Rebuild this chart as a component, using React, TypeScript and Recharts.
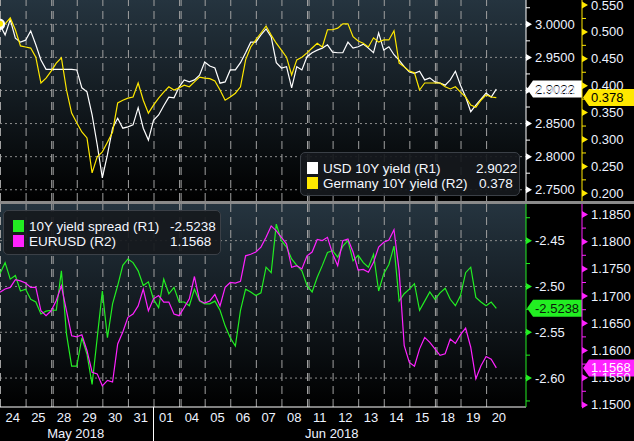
import React from 'react';
import {
  LineChart,
  Line,
  XAxis,
  YAxis,
  CartesianGrid,
  ReferenceLine,
} from 'recharts';

const FONT = '"Liberation Sans", Arial, sans-serif';

// trading days shown on the axis (one band each)
const dayLabels = ['24', '25', '28', '29', '30', '31', '01', '04', '05', '06', '07', '08', '11', '12', '13', '14', '15', '18', '19', '20'];
const monthLabels = ['May 2018', 'Jun 2018'];
const monthCentres = [2.96, 12.97];
const monthBreak = 6;
const weekendBreaks = [2, 7, 12, 17];
const SAMPLES_PER_DAY = 5;
const X_MAX = 20.56;

// USD 10Y yield (R1, top)
const usdYield = [
  2.999, 2.984, 3.007, 2.979, 2.973, 2.976, 2.990, 2.969, 2.946, 2.932,
  2.932, 2.932, 2.932, 2.932, 2.932, 2.931, 2.904, 2.898, 2.863, 2.818,
  2.768, 2.803, 2.843, 2.858, 2.843, 2.845, 2.848, 2.874, 2.843, 2.825,
  2.855, 2.863, 2.877, 2.890, 2.889, 2.905, 2.916, 2.913, 2.916, 2.923,
  2.943, 2.937, 2.934, 2.911, 2.913, 2.931, 2.931, 2.942, 2.957, 2.973,
  2.973, 2.984, 2.993, 2.981, 2.942, 2.934, 2.936, 2.904, 2.936, 2.931,
  2.951, 2.957, 2.961, 2.964, 2.969, 2.958, 2.957, 2.957, 2.973, 2.964,
  2.966, 2.970, 2.964, 2.957, 2.987, 2.961, 2.966, 2.954, 2.946, 2.936,
  2.928, 2.926, 2.929, 2.916, 2.919, 2.913, 2.911, 2.908, 2.916, 2.929,
  2.908, 2.890, 2.868, 2.878, 2.887, 2.896, 2.890, 2.902,
];

// Germany 10Y yield (R2, top)
const deYield = [
  0.515, 0.515, 0.526, 0.504, 0.474, 0.472, 0.470, 0.453, 0.405, 0.414,
  0.427, 0.442, 0.452, 0.392, 0.349, 0.331, 0.314, 0.303, 0.238, 0.268,
  0.277, 0.295, 0.314, 0.368, 0.373, 0.377, 0.379, 0.405, 0.373, 0.349,
  0.364, 0.377, 0.388, 0.398, 0.392, 0.396, 0.401, 0.398, 0.407, 0.416,
  0.414, 0.413, 0.409, 0.392, 0.373, 0.379, 0.386, 0.398, 0.448, 0.472,
  0.485, 0.498, 0.511, 0.494, 0.479, 0.466, 0.453, 0.420, 0.448, 0.453,
  0.461, 0.470, 0.479, 0.472, 0.504, 0.504, 0.507, 0.515, 0.515, 0.491,
  0.483, 0.479, 0.472, 0.489, 0.481, 0.485, 0.485, 0.502, 0.442, 0.435,
  0.427, 0.424, 0.392, 0.405, 0.405, 0.405, 0.405, 0.398, 0.394, 0.398,
  0.388, 0.379, 0.364, 0.360, 0.373, 0.383, 0.379, 0.378,
];

// 10Y yield spread (R1, bottom)
const yieldSpread = [
  -2.486, -2.474, -2.492, -2.488, -2.505, -2.503, -2.514, -2.517, -2.530, -2.527,
  -2.526, -2.526, -2.483, -2.552, -2.587, -2.587, -2.556, -2.574, -2.607, -2.556,
  -2.505, -2.556, -2.519, -2.499, -2.477, -2.470, -2.474, -2.483, -2.499, -2.495,
  -2.514, -2.523, -2.492, -2.508, -2.501, -2.517, -2.517, -2.521, -2.503, -2.516,
  -2.519, -2.519, -2.516, -2.526, -2.543, -2.556, -2.565, -2.526, -2.503, -2.506,
  -2.510, -2.507, -2.479, -2.485, -2.432, -2.450, -2.457, -2.470, -2.477, -2.483,
  -2.499, -2.506, -2.490, -2.477, -2.463, -2.461, -2.468, -2.456, -2.450, -2.472,
  -2.466, -2.474, -2.479, -2.465, -2.505, -2.486, -2.476, -2.456, -2.516, -2.508,
  -2.503, -2.497, -2.526, -2.516, -2.506, -2.514, -2.507, -2.502, -2.514, -2.521,
  -2.510, -2.485, -2.479, -2.512, -2.517, -2.521, -2.517, -2.524,
];

// EURUSD (R2, bottom)
const eurusd = [
  1.1707, 1.1713, 1.1716, 1.1730, 1.1728, 1.1724, 1.1716, 1.1716, 1.1673, 1.1664,
  1.1673, 1.1692, 1.1719, 1.1673, 1.1627, 1.1625, 1.1629, 1.1600, 1.1560, 1.1557,
  1.1535, 1.1545, 1.1542, 1.1612, 1.1634, 1.1661, 1.1667, 1.1682, 1.1713, 1.1673,
  1.1695, 1.1701, 1.1689, 1.1689, 1.1667, 1.1664, 1.1679, 1.1695, 1.1736, 1.1692,
  1.1687, 1.1691, 1.1703, 1.1682, 1.1716, 1.1725, 1.1724, 1.1727, 1.1774, 1.1777,
  1.1781, 1.1790, 1.1808, 1.1829, 1.1820, 1.1808, 1.1796, 1.1753, 1.1756, 1.1750,
  1.1774, 1.1781, 1.1804, 1.1802, 1.1808, 1.1778, 1.1756, 1.1802, 1.1805, 1.1781,
  1.1748, 1.1749, 1.1744, 1.1762, 1.1790, 1.1799, 1.1803, 1.1822, 1.1747, 1.1609,
  1.1578, 1.1571, 1.1603, 1.1624, 1.1615, 1.1603, 1.1591, 1.1594, 1.1621, 1.1613,
  1.1629, 1.1641, 1.1606, 1.1548, 1.1572, 1.1589, 1.1584, 1.1568,
];

const lastUsd = 2.9022;
const lastDe = 0.378;
const lastSpread = -2.5238;
const lastEur = 1.1568;

const usdTicks = [2.75, 2.775, 2.8, 2.825, 2.85, 2.875, 2.9, 2.925, 2.95, 2.975, 3.0, 3.025];
const deTicks = [0.2, 0.225, 0.25, 0.275, 0.3, 0.325, 0.35, 0.375, 0.4, 0.425, 0.45, 0.475, 0.5, 0.525, 0.55];
const spreadTicks = [-2.625, -2.6, -2.575, -2.55, -2.525, -2.5, -2.475, -2.45, -2.425];
const eurTicks = [1.15, 1.1525, 1.155, 1.1575, 1.16, 1.1625, 1.165, 1.1675, 1.17, 1.1725, 1.175, 1.1775, 1.18, 1.1825, 1.185];

const rows = usdYield.map((v, i) => ({
  t: i / SAMPLES_PER_DAY,
  usd: v,
  de: deYield[i],
  spread: yieldSpread[i],
  eur: eurusd[i],
}));

const dayTicks = dayLabels.map((_, i) => i + 0.5);
const gridDays = dayLabels.map((_, i) => i);

const isMajor = (v: number, step: number) =>
  Math.abs(v / step - Math.round(v / step)) < 1e-6;

const makeYTick = (color: string, digits: number, step: number) => (props: any) => {
  const { x, y, payload } = props;
  const v = payload.value as number;
  if (!isMajor(v, step)) {
    return <line x1={x} x2={x + 4} y1={y} y2={y} stroke={color} />;
  }
  return (
    <g>
      <path d={`M${x},${y - 3.5} L${x + 6},${y} L${x},${y + 3.5} Z`} fill={color} />
      <text x={x + 9} y={y + 4.5} fill='#eef3ff' fontSize={13} fontFamily={FONT}>
        {v.toFixed(digits)}
      </text>
    </g>
  );
};

const badge = (dx: number, w: number, fill: string, color: string, text: string) => (props: any) => {
  const vb = props.viewBox;
  const x = vb.x + vb.width + dx;
  const y = vb.y;
  return (
    <g>
      <path d={`M${x + 1},${y} L${x + 7},${y - 8.5} H${x + w} V${y + 8.5} H${x + 7} Z`} fill={fill} />
      <text x={x + 9} y={y + 4.5} fill={color} fontSize={13} fontFamily={FONT}>
        {text}
      </text>
    </g>
  );
};

const DayTick = (props: any) => {
  const { x, y, payload } = props;
  return (
    <text x={x} y={y + 14.5} textAnchor='middle' fill='#eef3ff' fontSize={13} fontFamily={FONT}>
      {dayLabels[Math.floor(payload.value)]}
    </text>
  );
};

const MonthTick = (props: any) => {
  const { x, y, payload } = props;
  if (payload.value === monthBreak) {
    return <line x1={x} x2={x} y1={y - 17} y2={y + 17} stroke='#ffffff' />;
  }
  return (
    <text x={x} y={y + 13.5} textAnchor='middle' fill='#eef3ff' fontSize={13} fontFamily={FONT}>
      {monthLabels[monthCentres.indexOf(payload.value)]}
    </text>
  );
};

const verticalGrid = (keyPrefix: string) => [
  ...gridDays.map((d) => (
    <ReferenceLine key={`${keyPrefix}-${d}`} x={d + 0.02} yAxisId='r1' stroke='#a0a0a0' strokeDasharray='8 5' />
  )),
  ...weekendBreaks.map((d) => (
    <ReferenceLine key={`${keyPrefix}-w${d}`} x={d + 0.08} yAxisId='r1' stroke='#a0a0a0' strokeDasharray='8 5' />
  )),
];

const legendBox: React.CSSProperties = {
  position: 'absolute',
  background: 'rgba(22,25,29,0.92)',
  border: '1px solid #3b4047',
  borderRadius: 5,
  color: '#f4f7ff',
  fontFamily: FONT,
  fontSize: 13.5,
  lineHeight: '15px',
};

function LegendRow({ color, label, value, valueLeft }: { color: string; label: string; value: string; valueLeft: number }) {
  return (
    <div style={{ position: 'relative', height: 15 }}>
      <span style={{ position: 'absolute', left: 0, top: 1, width: 11, height: 12, background: color }} />
      <span style={{ position: 'absolute', left: 16, top: 0, whiteSpace: 'nowrap' }}>{label}</span>
      <span style={{ position: 'absolute', left: valueLeft, top: 0 }}>{value}</span>
    </div>
  );
}

export default function App() {
  return (
    <div style={{ position: 'absolute', left: 0, top: 0, width: 634, height: 441, background: '#000', overflow: 'hidden' }}>
      <LineChart width={634} height={201} data={rows} margin={{ top: 0, right: 0, bottom: 0, left: 0 }}>
        <defs>
          <linearGradient id='bgTop' x1='0' y1='0' x2='0' y2='1'>
            <stop offset='0%' stopColor='#25343f' />
            <stop offset='100%' stopColor='#000000' />
          </linearGradient>
        </defs>
        <CartesianGrid
          yAxisId='r1'
          vertical={false}
          horizontalValues={[2.75, 2.8, 2.85, 2.9, 2.95, 3.0]}
          stroke='#8d8d8d'
          strokeDasharray='2 3'
          fill='url(#bgTop)'
        />
        <XAxis dataKey='t' type='number' domain={[0, X_MAX]} hide allowDataOverflow />
        <YAxis
          yAxisId='r1'
          orientation='right'
          width={56}
          domain={[2.733, 3.0367]}
          ticks={usdTicks}
          interval={0}
          tick={makeYTick('#ffffff', 4, 0.05)}
          tickLine={false}
          tickSize={0}
          tickMargin={0}
          axisLine={{ stroke: '#ffffff' }}
          allowDataOverflow
        />
        <YAxis
          yAxisId='r2'
          orientation='right'
          width={52}
          domain={[0.1857, 0.5593]}
          ticks={deTicks}
          interval={0}
          tick={makeYTick('#ffe800', 3, 0.05)}
          tickLine={false}
          tickSize={0}
          tickMargin={0}
          axisLine={{ stroke: '#ffe800' }}
          allowDataOverflow
        />
        {verticalGrid('top')}
        <Line yAxisId='r1' dataKey='usd' type='linear' stroke='#ffffff' strokeWidth={1.2} dot={false} isAnimationActive={false} />
        <Line yAxisId='r2' dataKey='de' type='linear' stroke='#ffe800' strokeWidth={1.2} dot={false} isAnimationActive={false} />
        <ReferenceLine yAxisId='r1' y={lastUsd} stroke='none' label={badge(0, 56, '#ffffff', '#000000', lastUsd.toFixed(4))} />
        <ReferenceLine yAxisId='r2' y={lastDe} stroke='none' label={badge(56, 52, '#ffe800', '#000000', lastDe.toFixed(3))} />
      </LineChart>
      <div style={{ height: 3, background: '#8a8a8a' }} />
      <LineChart width={634} height={237} data={rows} margin={{ top: 0, right: 0, bottom: 0, left: 0 }}>
        <defs>
          <linearGradient id='bgBottom' x1='0' y1='0' x2='0' y2='1'>
            <stop offset='0%' stopColor='#25343f' />
            <stop offset='100%' stopColor='#000000' />
          </linearGradient>
        </defs>
        <CartesianGrid
          yAxisId='r1'
          vertical={false}
          horizontalValues={[-2.6, -2.55, -2.5, -2.45]}
          stroke='#8d8d8d'
          strokeDasharray='2 3'
          fill='url(#bgBottom)'
        />
        <XAxis
          dataKey='t'
          type='number'
          domain={[0, X_MAX]}
          ticks={dayTicks}
          interval={0}
          height={17}
          tick={DayTick}
          tickLine={false}
          tickSize={0}
          tickMargin={0}
          axisLine={{ stroke: '#ffffff' }}
          allowDataOverflow
        />
        <XAxis
          xAxisId='m'
          dataKey='t'
          type='number'
          domain={[0, X_MAX]}
          ticks={[...monthCentres, monthBreak]}
          interval={0}
          height={17}
          tick={MonthTick}
          tickLine={false}
          tickSize={0}
          tickMargin={0}
          axisLine={false}
          allowDataOverflow
        />
        <YAxis
          yAxisId='r1'
          orientation='right'
          width={56}
          domain={[-2.6316, -2.41]}
          ticks={spreadTicks}
          interval={0}
          tick={makeYTick('#22ee22', 2, 0.05)}
          tickLine={false}
          tickSize={0}
          tickMargin={0}
          axisLine={{ stroke: '#22ee22' }}
          allowDataOverflow
        />
        <YAxis
          yAxisId='r2'
          orientation='right'
          width={52}
          domain={[1.14961, 1.18693]}
          ticks={eurTicks}
          interval={0}
          tick={makeYTick('#ff22ff', 4, 0.005)}
          tickLine={false}
          tickSize={0}
          tickMargin={0}
          axisLine={{ stroke: '#ff22ff' }}
          allowDataOverflow
        />
        {verticalGrid('bot')}
        <Line yAxisId='r1' dataKey='spread' type='linear' stroke='#22ee22' strokeWidth={1.2} dot={false} isAnimationActive={false} />
        <Line yAxisId='r2' dataKey='eur' type='linear' stroke='#ff22ff' strokeWidth={1.2} dot={false} isAnimationActive={false} />
        <ReferenceLine yAxisId='r1' y={lastSpread} stroke='none' label={badge(0, 56, '#22ee22', '#0a1a0a', lastSpread.toFixed(4))} />
        <ReferenceLine yAxisId='r2' y={lastEur} stroke='none' label={badge(56, 52, '#ff22ff', '#ffffff', lastEur.toFixed(4))} />
      </LineChart>

      <div style={{ ...legendBox, left: 300, top: 152, width: 220, height: 44, padding: '8px 0 0 6px', boxSizing: 'border-box' }}>
        <LegendRow color='#ffffff' label='USD 10Y yield (R1)' value={lastUsd.toFixed(4)} valueLeft={169} />
        <LegendRow color='#ffe800' label='Germany 10Y yield (R2)' value={lastDe.toFixed(3)} valueLeft={172} />
      </div>
      <div style={{ ...legendBox, left: 3, top: 210, width: 218, height: 45, padding: '8px 0 0 9px', boxSizing: 'border-box' }}>
        <LegendRow color='#22ee22' label='10Y yield spread (R1)' value={lastSpread.toFixed(4)} valueLeft={157} />
        <LegendRow color='#ff22ff' label='EURUSD (R2)' value={lastEur.toFixed(4)} valueLeft={157} />
      </div>
    </div>
  );
}
